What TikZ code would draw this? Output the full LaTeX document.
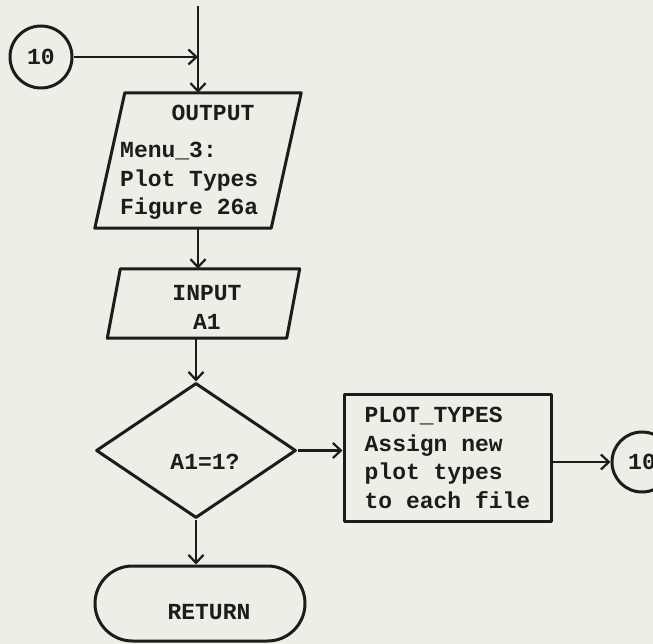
\documentclass[tikz,border=0pt]{standalone}
\usepackage{fontspec}
\setmonofont{Liberation Mono}
\usetikzlibrary{shapes.geometric,shapes.misc,arrows.meta}
\definecolor{paper}{HTML}{EEEDE6}
\definecolor{ink}{HTML}{1C1C1C}
\begin{document}
\begin{tikzpicture}[x=1pt,y=-1pt,
  flow/.style={draw=ink, line width=3pt, line join=round},
  txt/.style={font=\ttfamily\bfseries\fontsize{23}{28.5}\selectfont, text=ink, inner sep=0pt},
  link/.style={draw=ink, line width=2.8pt,
    -{Straight Barb[length=8pt,width=15pt,line width=2.2pt]}},
  slot/.style={draw=none, inner sep=0pt}]
  \useasboundingbox (0,0) rectangle (653,644);
  \begin{scope}
  \clip (0,0) rectangle (653,644);
  \fill[paper] (0,0) rectangle (653,644);

  % entry connector and incoming flow line
  \node[flow, circle, minimum size=62pt, txt] (c10) at (41,57) {10};
  \coordinate (topc) at (198,6);

  % OUTPUT parallelogram
  \node[slot, minimum width=176pt, minimum height=135pt] (out) at (198,160.5) {};
  \draw[flow] ([xshift=15pt]out.north west) -- ([xshift=15pt]out.north east)
    -- ([xshift=-15pt]out.south east) -- ([xshift=-15pt]out.south west) -- cycle;
  \node[txt] (outT) at (213,113) {OUTPUT};
  \node[txt, align=left, anchor=west] (outB) at (120,181)
    {Menu\_3:\\Plot Types\\Figure 26a};

  % INPUT parallelogram
  \node[slot, minimum width=179pt, minimum height=69pt] (inp) at (203.5,303.5) {};
  \draw[flow] ([xshift=6.5pt]inp.north west) -- ([xshift=6.5pt]inp.north east)
    -- ([xshift=-6.5pt]inp.south east) -- ([xshift=-6.5pt]inp.south west) -- cycle;
  \node[txt] (inT) at (207,293) {INPUT};
  \node[txt] (inB) at (207,322) {A1};

  % decision
  \node[flow, diamond, minimum width=200pt, minimum height=135pt, inner sep=0pt,
        aspect=1.48] (dia) at (196,450.5) {};
  \node[txt] (diaT) at (205,462) {A1=1?};

  % terminator
  \node[flow, rounded rectangle, minimum width=210pt, minimum height=75pt,
        inner sep=0pt] (ret) at (200,603.5) {};
  \node[txt] (retT) at (209,612) {RETURN};

  % process box
  \node[flow, rectangle, minimum width=207pt, minimum height=127pt, txt,
        align=left] (box) at (447.5,458) {PLOT\_TYPES\\Assign new\\plot types\\to each file};

  % exit connector, running off the right edge
  \node[flow, circle, minimum size=60pt, txt] (c10r) at (642,462) {10};

  % connectors
  \coordinate (join) at (c10.east -| out.north);
  \draw[link] (topc) -- (out.north);
  \draw[link] (c10.east) -- (join);
  \draw[link] (out.south) -- (out.south |- inp.north);
  \draw[link] (inp.south -| dia.north) -- (dia.north);
  \draw[link] (dia.south) -- (dia.south |- ret.north);
  \draw[link] (dia.east) -- (dia.east -| box.west);
  \draw[link] (c10r.west -| box.east) -- (c10r.west);
  \end{scope}
\end{tikzpicture}
\end{document}
